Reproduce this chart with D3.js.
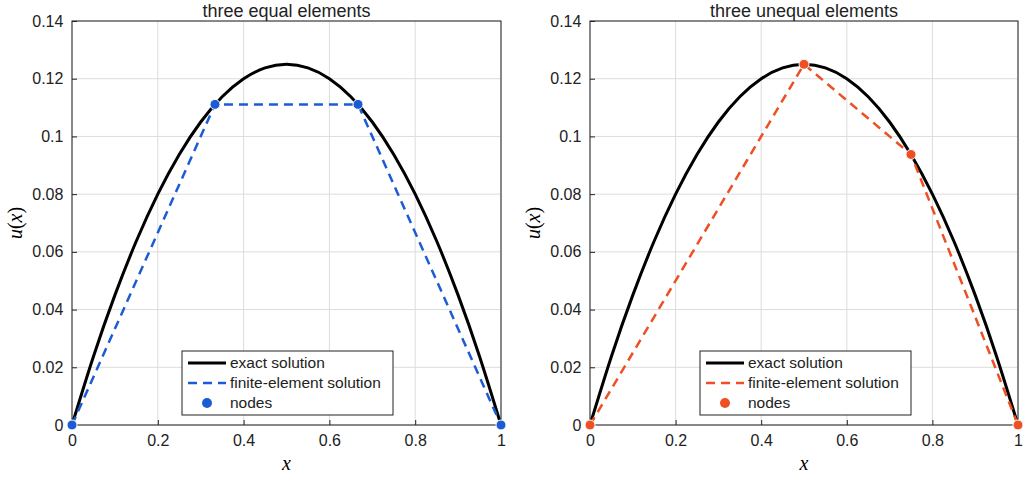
<!DOCTYPE html><html><head><meta charset="utf-8">
<script src="https://cdn.jsdelivr.net/npm/d3@7"></script>
<style>body{margin:0;background:#fff}text{font-family:"Liberation Sans",Arial,sans-serif}</style></head><body>
<svg id="c" width="1024" height="479"></svg>
<script>
const exactX=[0,0.05,0.1,0.15,0.2,0.25,0.3,0.35,0.4,0.45,0.5,0.55,0.6,0.65,0.7,0.75,0.8,0.85,0.9,0.95,1];
const exactU=[0,0.02375,0.045,0.06375,0.08,0.09375,0.105,0.11375,0.12,0.12375,0.125,0.12375,0.12,0.11375,0.105,0.09375,0.08,0.06375,0.045,0.02375,0];
const nodesX1=[0,1/3,2/3,1], nodesU1=[0,0.1111,0.1111,0];
const nodesX2=[0,0.5,0.75,1], nodesU2=[0,0.125,0.09375,0];
const xTicks=[0,0.2,0.4,0.6,0.8,1], yTicks=[0,0.02,0.04,0.06,0.08,0.1,0.12,0.14];
const titles=["three equal elements","three unequal elements"];
const colors=["#1c5bd6","#ee4f23"];
const legendLabels=["exact solution","finite-element solution","nodes"];
const svg=d3.select("#c");
const panels=[{x0:72,x1:501,nx:nodesX1,nu:nodesU1},{x0:590,x1:1018,nx:nodesX2,nu:nodesU2}];
panels.forEach((p,i)=>{
 const x=d3.scaleLinear().domain([0,1]).range([p.x0,p.x1]);
 const y=d3.scaleLinear().domain([0,0.14]).range([425,21]);
 const g=svg.append("g");
 g.append("g").selectAll("line").data(xTicks).join("line").attr("x1",d=>x(d)).attr("x2",d=>x(d)).attr("y1",21).attr("y2",425).attr("stroke","#dcdcdc");
 g.append("g").selectAll("line").data(yTicks).join("line").attr("y1",d=>y(d)).attr("y2",d=>y(d)).attr("x1",p.x0).attr("x2",p.x1).attr("stroke","#dcdcdc");
 g.append("rect").attr("x",p.x0).attr("y",21).attr("width",p.x1-p.x0).attr("height",404).attr("fill","none").attr("stroke","#222");
 const ax=g.append("g").attr("transform","translate(0,425)").call(d3.axisBottom(x).tickValues(xTicks).tickSize(-5).tickFormat(d3.format("")));
 const ay=g.append("g").attr("transform",`translate(${p.x0},0)`).call(d3.axisLeft(y).tickValues(yTicks).tickSize(-5).tickFormat(d3.format("")));
 [ax,ay].forEach(a=>{a.select(".domain").remove();a.selectAll("line").attr("stroke","#222");a.selectAll("text").attr("font-size",16).attr("fill","#222");});
 ax.selectAll("text").attr("dy","1.15em");ay.selectAll("text").attr("dx","-0.35em");
 g.append("text").attr("x",(p.x0+p.x1)/2).attr("y",17).attr("text-anchor","middle").attr("font-size",18).attr("fill","#222").text(titles[i]);
 g.append("text").attr("x",(p.x0+p.x1)/2).attr("y",470).attr("text-anchor","middle").attr("font-size",20).attr("font-style","italic").style("font-family","Liberation Serif,serif").text("x");
 g.append("text").attr("transform",`translate(${p.x0-50},223) rotate(-90)`).attr("text-anchor","middle").attr("font-size",20).style("font-family","Liberation Serif,serif").html('<tspan font-style="italic">u</tspan>(<tspan font-style="italic">x</tspan>)');
 g.append("path").datum(exactX.map((v,k)=>[v,exactU[k]])).attr("d",d3.line().x(d=>x(d[0])).y(d=>y(d[1])).curve(d3.curveNatural)).attr("fill","none").attr("stroke","#000").attr("stroke-width",3);
 g.append("path").datum(p.nx.map((v,k)=>[v,p.nu[k]])).attr("d",d3.line().x(d=>x(d[0])).y(d=>y(d[1]))).attr("fill","none").attr("stroke",colors[i]).attr("stroke-width",2.5).attr("stroke-dasharray","9,6");
 g.append("g").selectAll("circle").data(p.nx).join("circle").attr("cx",d=>x(d)).attr("cy",(d,k)=>y(p.nu[k])).attr("r",5).attr("fill",colors[i]).attr("stroke","#fff").attr("stroke-width",1);
 const lx=p.x0+110, ly=351;
 const L=g.append("g").attr("transform",`translate(${lx},${ly})`);
 L.append("rect").attr("width",211).attr("height",64).attr("fill","#fff").attr("stroke","#222");
 legendLabels.forEach((t,k)=>{const yy=12+k*20;
  if(k==0)L.append("line").attr("x1",6).attr("x2",44).attr("y1",yy).attr("y2",yy).attr("stroke","#000").attr("stroke-width",3);
  if(k==1)L.append("line").attr("x1",6).attr("x2",44).attr("y1",yy).attr("y2",yy).attr("stroke",colors[i]).attr("stroke-width",2.5).attr("stroke-dasharray","9,6");
  if(k==2)L.append("circle").attr("cx",25).attr("cy",yy).attr("r",5).attr("fill",colors[i]);
  L.append("text").attr("x",48).attr("y",yy+5).attr("font-size",15.5).attr("fill","#222").text(t);});
});
</script></body></html>
